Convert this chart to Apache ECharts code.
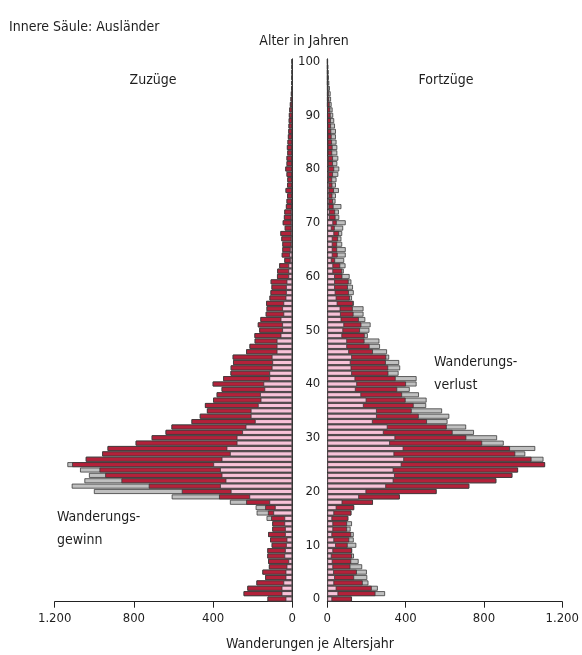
<!DOCTYPE html>
<html>
<head>
<meta charset="utf-8">
<script src="https://cdn.jsdelivr.net/npm/echarts@6/dist/echarts.min.js"></script>
<style>
  html, body { margin: 0; padding: 0; background: #fff; }
  #chart { width: 582px; height: 655px; }
</style>
</head>
<body>
<div id="chart"></div>
<script>
// Alter 0..100
var ages = [];
for (var a = 0; a <= 100; a++) ages.push(String(a));

// Zuzüge insgesamt je Altersjahr
var zuzuege = [
  125, 246, 227, 181, 137, 151, 118, 122, 126, 126,
  104, 112, 122, 101, 101, 130, 180, 185, 315, 609,
  1002, 1114, 1050, 1027, 1072, 1136, 1043, 960, 933, 791,
  710, 640, 610, 509, 467, 431, 441, 400, 382, 357,
  402, 349, 312, 311, 299, 301, 233, 216, 190, 191,
  167, 174, 161, 134, 130, 132, 115, 110, 105, 109,
  77, 76, 66, 40, 53, 50, 50, 55, 60, 38,
  48, 42, 40, 32, 29, 26, 34, 26, 25, 29,
  35, 29, 29, 25, 27, 24, 22, 20, 19, 18,
  17, 15, 12, 9, 7, 5, 4, 3, 2, 2,
  2
];
// Fortzüge insgesamt je Altersjahr
var fortzuege = [
  126, 295, 258, 210, 204, 202, 178, 160, 136, 127,
  148, 135, 135, 119, 126, 107, 123, 137, 233, 370,
  558, 725, 863, 945, 974, 1112, 1104, 1011, 1062, 901,
  867, 749, 709, 614, 623, 586, 505, 507, 468, 421,
  456, 456, 364, 372, 367, 316, 305, 269, 266, 207,
  215, 221, 194, 185, 185, 136, 126, 135, 131, 123,
  114, 84, 93, 86, 94, 94, 76, 72, 76, 81,
  94, 61, 59, 72, 42, 44, 59, 44, 47, 56,
  61, 51, 56, 51, 51, 47, 44, 44, 39, 35,
  30, 27, 22, 19, 17, 13, 10, 8, 7, 5,
  3
];
// Innere Säule: Ausländer (Zuzüge)
var zuzuegeAusl = [
  34, 54, 54, 45, 34, 34, 29, 20, 40, 37,
  32, 29, 37, 37, 40, 40, 96, 88, 116, 217,
  311, 365, 337, 357, 365, 399, 357, 315, 332, 281,
  281, 253, 236, 189, 210, 210, 174, 160, 163, 141,
  146, 116, 116, 104, 101, 104, 79, 79, 79, 59,
  51, 51, 59, 45, 51, 45, 34, 32, 32, 29,
  20, 20, 20, 12, 15, 12, 8, 8, 8, 8,
  8, 8, 8, 3, 3, 2, 5, 2, 2, 2,
  2, 2, 2, 1, 1, 1, 1, 1, 1, 1,
  0, 0, 0, 0, 0, 0, 0, 0, 0, 0,
  0
];
// Innere Säule: Ausländer (Fortzüge)
var fortzuegeAusl = [
  25, 56, 47, 35, 39, 34, 30, 27, 22, 30,
  44, 35, 25, 30, 30, 25, 35, 47, 77, 162,
  199, 300, 338, 345, 338, 379, 392, 342, 389, 320,
  347, 288, 308, 232, 253, 253, 186, 200, 173, 145,
  152, 143, 126, 123, 119, 126, 111, 101, 101, 76,
  81, 86, 72, 69, 67, 52, 47, 42, 39, 39,
  39, 30, 30, 22, 27, 27, 27, 27, 35, 22,
  30, 13, 13, 10, 10, 10, 10, 10, 8, 8,
  8, 6, 6, 5, 5, 4, 4, 3, 3, 2,
  2, 2, 1, 1, 1, 1, 0, 0, 0, 0,
  0
];
var xTicks = [0, 400, 800, 1200];

// gemeinsamer Teil (Minimum beider Seiten) wird rot gezeichnet
var common = zuzuege.map(function (v, i) { return Math.min(v, fortzuege[i]); });

var FONT = '"DejaVu Sans Condensed", "Roboto", sans-serif';
var TXT = '#1e1e1e';
var EDGE = '#3a3a3a';

function fmt(v) {
  return v >= 1000 ? String(v).replace(/(\d)(\d{3})$/, '$1.$2') : String(v);
}

function bars(name, data, color, idx) {
  return {
    name: name,
    type: 'bar',
    xAxisIndex: idx,
    yAxisIndex: idx,
    data: data,
    barGap: '-100%',
    barCategoryGap: '8%',
    silent: true,
    itemStyle: { color: color, borderColor: EDGE, borderWidth: 0.8 }
  };
}

function xAxis(idx, inverse) {
  return {
    type: 'value',
    gridIndex: idx,
    inverse: inverse,
    min: xTicks[0],
    max: xTicks[xTicks.length - 1],
    interval: 400,
    axisLine: { show: true, lineStyle: { color: '#222', width: 1 } },
    axisTick: { show: true, length: 6, lineStyle: { color: '#222' } },
    splitLine: { show: false },
    axisLabel: { fontFamily: FONT, fontSize: 13, color: TXT, margin: 10, formatter: fmt }
  };
}

var chart = echarts.init(document.getElementById('chart'), null, { renderer: 'canvas' });

chart.setOption({
  animation: false,
  backgroundColor: '#fff',
  textStyle: { fontFamily: FONT },
  grid: [
    { left: 54.7, right: 289.7, top: 58.8, bottom: 53.3 },
    { left: 327.3, right: 16.7, top: 58.8, bottom: 53.3 }
  ],
  xAxis: [xAxis(0, true), xAxis(1, false)],
  yAxis: [
    {
      type: 'category', gridIndex: 0, data: ages, position: 'right',
      axisLine: { show: true, lineStyle: { color: '#333', width: 1 } },
      axisTick: { show: false }, axisLabel: { show: false }, splitLine: { show: false }
    },
    {
      type: 'category', gridIndex: 1, data: ages, position: 'left',
      axisLine: { show: true, lineStyle: { color: '#333', width: 1 } },
      axisTick: { show: false }, splitLine: { show: false },
      axisLabel: {
        fontFamily: FONT, fontSize: 13, color: TXT, margin: 7,
        interval: function (i) { return i % 10 === 0; }
      }
    }
  ],
  series: [
    bars('Zuzüge', zuzuege, '#c0c0c0', 0),
    bars('Zuzüge gemeinsam', common, '#b4213a', 0),
    bars('Zuzüge Ausländer', zuzuegeAusl, '#f8c2d8', 0),
    bars('Fortzüge', fortzuege, '#c0c0c0', 1),
    bars('Fortzüge gemeinsam', common, '#b4213a', 1),
    bars('Fortzüge Ausländer', fortzuegeAusl, '#f8c2d8', 1)
  ],
  graphic: [
    { type: 'text', left: 9, top: 20, style: { text: 'Innere Säule: Ausländer', font: '14px ' + FONT, fill: TXT } },
    { type: 'text', x: 304, y: 41, style: { text: 'Alter in Jahren', font: '14px ' + FONT, fill: TXT, align: 'center', verticalAlign: 'middle' } },
    { type: 'text', x: 153, y: 80, style: { text: 'Zuzüge', font: '14px ' + FONT, fill: TXT, align: 'center', verticalAlign: 'middle' } },
    { type: 'text', x: 446, y: 80, style: { text: 'Fortzüge', font: '14px ' + FONT, fill: TXT, align: 'center', verticalAlign: 'middle' } },
    { type: 'text', x: 57, y: 517, style: { text: 'Wanderungs-', font: '14px ' + FONT, fill: TXT, verticalAlign: 'middle' } },
    { type: 'text', x: 57, y: 540, style: { text: 'gewinn', font: '14px ' + FONT, fill: TXT, verticalAlign: 'middle' } },
    { type: 'text', x: 434, y: 362, style: { text: 'Wanderungs-', font: '14px ' + FONT, fill: TXT, verticalAlign: 'middle' } },
    { type: 'text', x: 434, y: 385, style: { text: 'verlust', font: '14px ' + FONT, fill: TXT, verticalAlign: 'middle' } },
    { type: 'text', x: 310, y: 644, style: { text: 'Wanderungen je Altersjahr', font: '14px ' + FONT, fill: TXT, align: 'center', verticalAlign: 'middle' } }
  ]
});
</script>
</body>
</html>
